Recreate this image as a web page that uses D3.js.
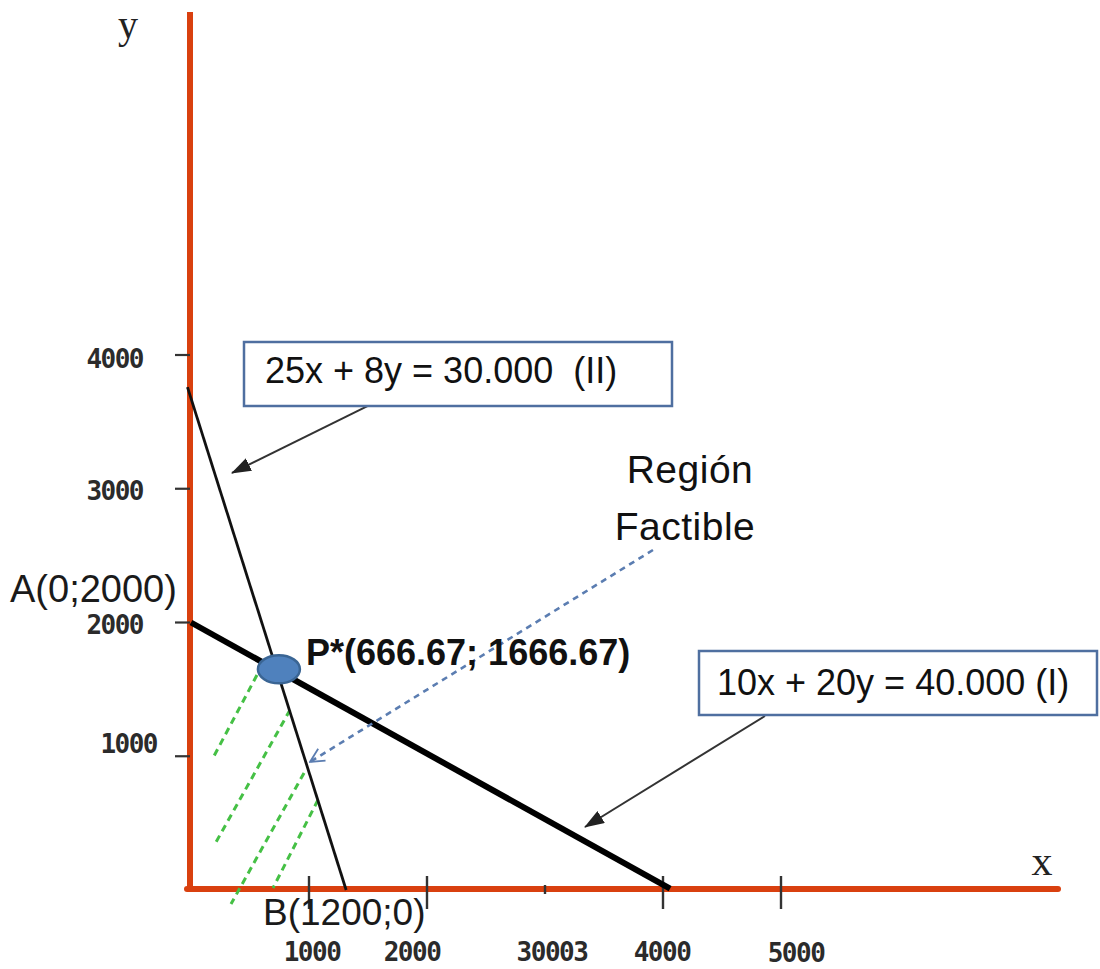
<!DOCTYPE html>
<html><head><meta charset="utf-8">
<script src="https://cdn.jsdelivr.net/npm/d3@7"></script>
<style>body{margin:0;background:#fff}svg{display:block}text{white-space:pre}</style>
</head><body><svg id="c" width="1100" height="969"></svg>
<script>
// ---- data ----
const xTicks = [1000, 2000, 3000, 4000, 5000];
const xTickLabels = ["1000", "2000", "30003", "4000", "5000"];
const yTicks = [1000, 2000, 3000, 4000];
const yTickLabels = ["1000", "2000", "3000", "4000"];
const lineI = [{x: 0, y: 2000}, {x: 4060, y: 10}];      // 10x + 20y = 40.000
const lineII = [{x: -30, y: 3760}, {x: 1315, y: 0}];    // 25x + 8y = 30.000
const optimum = {x: 745, y: 1650};
const hatchLines = [
  [{x: 559, y: 1607}, {x: 195, y: 1002}],
  [{x: 839, y: 1346}, {x: 203, y: 344}],
  [{x: 958, y: 875}, {x: 339, y: -105}],
  [{x: 1076, y: 673}, {x: 695, y: 15}]
];
const arrowII = [{x: 1568, y: 3649}, {x: 347, y: 3118}];
const arrowI = [{x: 4864, y: 1301}, {x: 3339, y: 471}];
const arrowRegion = [{x: 3915, y: 2542}, {x: 1008, y: 957}];
const eqII = "25x + 8y = 30.000  (II)";
const eqI = "10x + 20y = 40.000 (I)";
const pointA = "A(0;2000)";
const pointB = "B(1200;0)";
const pointP = "P*(666.67; 1666.67)";
const regionText = ["Región", "Factible"];

// ---- drawing ----
const svg = d3.select("#c");
const x = d3.scaleLinear().domain([0, 5000]).range([191, 781]);
const y = d3.scaleLinear().domain([0, 4000]).range([890, 355]);
const line = d3.line().x(d => x(d.x)).y(d => y(d.y));
const AXIS = "#D9400F";
const SANS = "'Liberation Sans', Arial, sans-serif";
const TICKF = "'DejaVu Sans Mono', monospace";

const defs = svg.append("defs");
defs.append("marker").attr("id", "tri").attr("markerUnits", "userSpaceOnUse")
  .attr("viewBox", "0 0 20 14").attr("refX", 19).attr("refY", 7)
  .attr("markerWidth", 20).attr("markerHeight", 14).attr("orient", "auto")
  .append("path").attr("d", "M0,0 L20,7 L0,14 Z").attr("fill", "#222");
defs.append("marker").attr("id", "vee").attr("markerUnits", "userSpaceOnUse")
  .attr("viewBox", "0 0 16 16").attr("refX", 15).attr("refY", 8)
  .attr("markerWidth", 16).attr("markerHeight", 16).attr("orient", "auto")
  .append("path").attr("d", "M1,1 L15,8 L1,15").attr("fill", "none")
  .attr("stroke", "#5B7DB1").attr("stroke-width", 1.8);

// axes
svg.append("line").attr("x1", 190).attr("x2", 190).attr("y1", 12).attr("y2", y(0) + 2)
  .attr("stroke", AXIS).attr("stroke-width", 6);
svg.append("line").attr("x1", 187).attr("x2", 1058).attr("y1", y(0) - 1).attr("y2", y(0) - 1)
  .attr("stroke", AXIS).attr("stroke-width", 6).attr("stroke-linecap", "round");

// y ticks
svg.selectAll(".yt").data(yTicks).enter().append("line")
  .attr("x1", 175).attr("x2", 190).attr("y1", d => y(d)).attr("y2", d => y(d))
  .attr("stroke", "#333").attr("stroke-width", 2.2);
const yLabDx = {1000: 14, 2000: 0, 3000: 0, 4000: 0};
const yLabDy = {1000: -3, 2000: 11, 3000: 11, 4000: 13};
svg.selectAll(".yl").data(yTicks).enter().append("text")
  .attr("x", d => 143 + yLabDx[d]).attr("y", d => y(d) + yLabDy[d])
  .attr("text-anchor", "end").attr("font-family", TICKF).attr("font-weight", "bold")
  .attr("font-size", 26).attr("letter-spacing", -1.5).attr("fill", "#2b2b2b")
  .text((d, i) => yTickLabels[i]);

// x ticks
svg.selectAll(".xt").data(xTicks).enter().append("line")
  .attr("x1", d => x(d)).attr("x2", d => x(d))
  .attr("y1", d => d === 3000 ? 885 : 876).attr("y2", d => d === 3000 ? 894 : 909)
  .attr("stroke", "#333").attr("stroke-width", 2.4);
const xLabDx = {1000: 3, 2000: -15, 3000: 7, 4000: -1, 5000: 15};
svg.selectAll(".xl").data(xTicks).enter().append("text")
  .attr("x", d => x(d) + xLabDx[d]).attr("y", d => d === 5000 ? 962 : 961)
  .attr("text-anchor", "middle").attr("font-family", TICKF).attr("font-weight", "bold")
  .attr("font-size", 26).attr("letter-spacing", -1.5).attr("fill", "#2b2b2b")
  .text((d, i) => xTickLabels[i]);

// axis names
svg.append("text").attr("x", 128).attr("y", 38).attr("text-anchor", "middle")
  .attr("font-family", "'Liberation Serif', serif").attr("font-size", 40).attr("fill", "#222").text("y");
svg.append("text").attr("x", 1042).attr("y", 875).attr("text-anchor", "middle")
  .attr("font-family", "'Liberation Serif', serif").attr("font-size", 42).attr("fill", "#222").text("x");

// hatch (feasible region)
svg.selectAll(".hatch").data(hatchLines).enter().append("path")
  .attr("d", line).attr("fill", "none").attr("stroke", "#45C045")
  .attr("stroke-width", 3).attr("stroke-dasharray", "7,5");

// constraint lines
svg.append("path").datum(lineII).attr("d", line).attr("fill", "none")
  .attr("stroke", "#111").attr("stroke-width", 2.8);
svg.append("path").datum(lineI).attr("d", line).attr("fill", "none")
  .attr("stroke", "#000").attr("stroke-width", 6);

// region arrow
svg.append("path").datum(arrowRegion).attr("d", line).attr("fill", "none")
  .attr("stroke", "#5B7DB1").attr("stroke-width", 2.6).attr("stroke-dasharray", "6,5")
  .attr("marker-end", "url(#vee)");

// optimum point
svg.append("ellipse").attr("cx", x(optimum.x)).attr("cy", y(optimum.y))
  .attr("rx", 21).attr("ry", 14).attr("fill", "#4F81BD")
  .attr("stroke", "#3A6594").attr("stroke-width", 2.5);

// annotation arrows
svg.append("path").datum(arrowII).attr("d", line).attr("fill", "none")
  .attr("stroke", "#333").attr("stroke-width", 2).attr("marker-end", "url(#tri)");
svg.append("path").datum(arrowI).attr("d", line).attr("fill", "none")
  .attr("stroke", "#333").attr("stroke-width", 2).attr("marker-end", "url(#tri)");

// boxes
svg.append("rect").attr("x", 244).attr("y", 342).attr("width", 428).attr("height", 64)
  .attr("fill", "#fff").attr("stroke", "#4F6FA0").attr("stroke-width", 2.5);
svg.append("text").attr("x", 265).attr("y", 383).attr("font-family", SANS)
  .attr("font-size", 36).attr("fill", "#111").text(eqII);
svg.append("rect").attr("x", 699).attr("y", 651).attr("width", 398).attr("height", 64)
  .attr("fill", "#fff").attr("stroke", "#4F6FA0").attr("stroke-width", 2.5);
svg.append("text").attr("x", 717).attr("y", 695).attr("font-family", SANS)
  .attr("font-size", 36).attr("fill", "#111").text(eqI);

// point labels
svg.append("text").attr("x", 10).attr("y", 602).attr("font-family", SANS)
  .attr("font-size", 38).attr("fill", "#1a1a1a").text(pointA);
svg.append("text").attr("x", 263).attr("y", 925).attr("font-family", SANS)
  .attr("font-size", 37).attr("fill", "#1a1a1a").text(pointB);
svg.append("text").attr("x", 306).attr("y", 665).attr("font-family", SANS)
  .attr("font-weight", "bold").attr("font-size", 36).attr("fill", "#111").text(pointP);

// region label
svg.selectAll(".reg").data(regionText).enter().append("text")
  .attr("x", (d, i) => i === 0 ? 690 : 685).attr("y", (d, i) => i === 0 ? 483 : 540)
  .attr("text-anchor", "middle").attr("font-family", SANS).attr("font-size", 39)
  .attr("letter-spacing", 0.5).attr("fill", "#111").text(d => d);
</script></body></html>
